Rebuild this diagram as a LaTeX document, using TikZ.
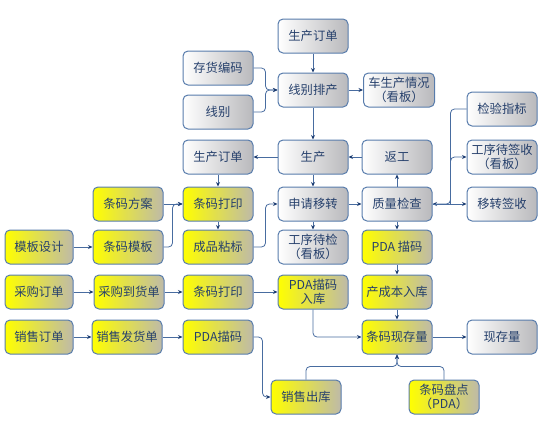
\documentclass[tikz,border=0pt]{standalone}
\usepackage{fontspec}
\setmainfont{Noto Sans CJK SC}
\definecolor{frame}{RGB}{88,124,172}
\definecolor{wire}{RGB}{72,108,160}
\definecolor{tipc}{RGB}{30,62,115}
\definecolor{ink}{RGB}{38,64,108}
\definecolor{greyend}{RGB}{185,185,188}
\definecolor{yelend}{RGB}{190,186,168}
\usepackage{tikz}
\usetikzlibrary{arrows.meta,positioning,calc}
\tikzset{
  box/.style={draw=frame, rounded corners=5pt, line width=1pt, left color=white, right color=greyend,
              minimum width=70pt, minimum height=34pt, inner sep=1pt, align=center, text=ink,
              font=\fontsize{12.3}{14}\selectfont},
  ybox/.style={box, left color=yellow, right color=yelend},
  flow/.style={-{Stealth[length=4.5pt, width=4pt, color=tipc]}, wire, line width=0.8pt},
}
\begin{document}
\begin{tikzpicture}[x=1pt, y=-1pt]
        \useasboundingbox (0,0) rectangle (554,426);
        \node[box]  (ord1)   at (313,36)  {生产订单};
        \node[box]  (inv)    at (218,68)  {存货编码};
        \node[box]  (line)   at (218,112) {线别};
        \node[box]  (sched)  at (313,90)  {线别排产};
        \node[box, minimum width=71pt] (board) at (399,90) {车生产情况\\（看板）};
        \node[box]  (chk)    at (502,109) {检验指标};
        \node[box]  (ord2)   at (218,157) {生产订单};
        \node[box]  (prod)   at (313,157) {生产};
        \node[box]  (rework) at (397,157) {返工};
        \node[box]  (sign1)  at (502,157) {工序待签收\\（看板）};
        \node[ybox] (scheme) at (128,204) {条码方案};
        \node[ybox] (print1) at (218,204) {条码打印};
        \node[box]  (apply)  at (313,204) {申请移转};
        \node[box]  (qc)     at (397,204) {质量检查};
        \node[box]  (sign2)  at (502,204) {移转签收};
        \node[ybox, minimum width=68pt] (tpl) at (39,247) {模板设计};
        \node[ybox] (tplb)   at (128,247) {条码模板};
        \node[ybox] (label)  at (218,247) {成品粘标};
        \node[box]  (wait)   at (313,247) {工序待检\\（看板）};
        \node[ybox] (pda1)   at (397,247) {PDA 描码};
        \node[ybox, minimum width=68pt] (po) at (39,292) {采购订单};
        \node[ybox] (recv)   at (129,292) {采购到货单};
        \node[ybox] (print2) at (218,292) {条码打印};
        \node[ybox] (pdain)  at (313,292) {PDA描码\\入库};
        \node[ybox] (fin)    at (397,292) {产成本入库};
        \node[ybox, minimum width=68pt] (so) at (39,337) {销售订单};
        \node[ybox] (ship)   at (127,337) {销售发货单};
        \node[ybox] (pda2)   at (218,337) {PDA描码};
        \node[ybox] (stock)  at (397,337) {条码现存量};
        \node[box]  (cur)    at (502,337) {现存量};
        \node[ybox] (out)    at (306,397) {销售出库};
        \node[ybox] (count)  at (444,397) {条码盘点\\（PDA）};
        \coordinate (qcx) at ($(qc.east)+(18,0)$);
        \coordinate (sj)  at ($(stock.south)+(0,12)$);
        \draw[flow] (ord1.south) -- (sched.north);
        \draw[flow, rounded corners=4pt] (inv.east) -- ++(12,0) |- (sched.west);
        \draw[flow, rounded corners=4pt] (line.east) -- ++(12,0) |- (sched.west);
        \draw[flow] (sched.east) -- (board.west);
        \draw[flow] (sched.south) -- (prod.north);
        \draw[flow] (prod.west) -- (ord2.east);
        \draw[flow] (rework.west) -- (prod.east);
        \draw[flow] (qc.north) -- (rework.south);
        \draw[flow] (prod.south) -- (apply.north);
        \draw[flow] (apply.east) -- (qc.west);
        \draw[flow] (apply.south) -- (wait.north);
        \draw[flow] (qc.south) -- (pda1.north);
        \draw[flow, rounded corners=4pt] (chk.west) -| (qcx) -- (qc.east);
        \draw[flow, rounded corners=4pt] (qcx) |- (sign1.west);
        \draw[flow] (qc.east) -- (sign2.west);
        \draw[flow] (ord2.south) -- (print1.north);
        \draw[flow] (print1.south) -- (label.north);
        \draw[flow] (scheme.east) -- (print1.west);
        \draw[flow, rounded corners=4pt] (tplb.east) -- ++(9,0) |- (print1.west);
        \draw[flow] (tpl.east) -- (tplb.west);
        \draw[flow, rounded corners=4pt] (label.east) -- ++(12,0) |- (apply.west);
        \draw[flow] (po.east) -- (recv.west);
        \draw[flow] (recv.east) -- (print2.west);
        \draw[flow] (print2.east) -- (pdain.west);
        \draw[flow, rounded corners=4pt] (pdain.south) |- (stock.west);
        \draw[flow] (pda1.south) -- (fin.north);
        \draw[flow] (fin.south) -- (stock.north);
        \draw[flow] (stock.east) -- (cur.west);
        \draw[flow] (so.east) -- (ship.west);
        \draw[flow] (ship.east) -- (pda2.west);
        \draw[flow, rounded corners=4pt] (pda2.east) -- ++(9,0) |- (out.west);
        \draw[flow, rounded corners=4pt] (out.north) |- (sj) -- (stock.south);
        \draw[flow, rounded corners=4pt] (count.north) |- (sj) -- (stock.south);
\end{tikzpicture}
\end{document}
